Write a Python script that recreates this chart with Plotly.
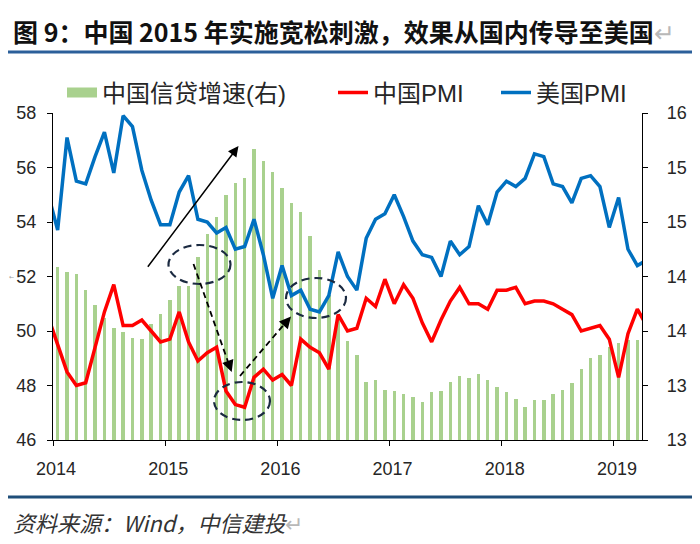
import plotly.graph_objects as go

# ---------------- data (monthly, Dec-2013 .. Apr-2019) ----------------
months = ["2013-12"] + [f"{y}-{m:02d}" for y in range(2014, 2019) for m in range(1, 13)] + \
         ["2019-01", "2019-02", "2019-03", "2019-04"]

china_pmi = [50.5,
             49.5, 48.5, 48.0, 48.1, 49.4, 50.7, 51.7, 50.2, 50.2, 50.4, 50.0, 49.6,
             49.7, 50.7, 49.6, 48.9, 49.2, 49.4, 47.8, 47.3, 47.2, 48.3, 48.6, 48.2,
             48.4, 48.0, 49.7, 49.4, 49.2, 48.6, 50.6, 50.0, 50.1, 51.2, 50.9, 51.9,
             51.0, 51.7, 51.2, 50.3, 49.6, 50.4, 51.1, 51.6, 51.0, 51.0, 50.8, 51.5,
             51.5, 51.6, 51.0, 51.1, 51.1, 51.0, 50.8, 50.6, 50.0, 50.1, 50.2, 49.7,
             48.3, 49.9, 50.8, 50.2]

us_pmi = [55.0,
          53.7, 57.1, 55.5, 55.4, 56.4, 57.3, 55.8, 57.9, 57.5, 55.9, 54.8, 53.9,
          53.9, 55.1, 55.7, 54.1, 54.0, 53.6, 53.8, 53.0, 53.1, 54.1, 52.8, 51.2,
          52.4, 51.3, 51.5, 50.8, 50.7, 51.3, 52.9, 52.0, 51.5, 53.4, 54.1, 54.3,
          55.0, 54.2, 53.3, 52.8, 52.7, 52.0, 53.3, 52.8, 53.1, 54.6, 53.9, 55.1,
          55.5, 55.3, 55.6, 56.5, 56.4, 55.4, 55.3, 54.7, 55.6, 55.7, 55.3, 53.8,
          54.9, 53.0, 52.4, 52.6]

credit_growth = [None,
                 14.59, 14.54, 14.52, 14.38, 14.24, 14.12, 14.03, 13.99, 13.94, 13.93, 14.06, 14.16,
                 14.28, 14.41, 14.41, 14.68, 14.89, 15.05, 15.25, 15.36, 15.40, 15.67, 15.56, 15.46,
                 15.31, 15.17, 15.09, 14.87, 14.56, 14.33, 14.12, 13.91, 13.78, 13.53, 13.55, 13.46,
                 13.45, 13.42, 13.39, 13.35, 13.44, 13.45, 13.53, 13.59, 13.57, 13.61, 13.55, 13.49,
                 13.44, 13.38, 13.30, 13.37, 13.37, 13.42, 13.46, 13.52, 13.65, 13.75, 13.78, 13.85,
                 13.89, 13.92, 13.92, None]

year_labels = ["2014", "2015", "2016", "2017", "2018", "2019"]
left_ticks = [46, 48, 50, 52, 54, 56, 58]
right_tick_vals = [13, 13.5, 14, 14.5, 15, 15.5, 16]
right_tick_text = ["13", "13", "14", "14", "15", "15", "16"]

names = ["中国信贷增速(右)", "中国PMI", "美国PMI"]
title_text = "图 9：中国 2015 年实施宽松刺激，效果从国内传导至美国"
source_text = "资料来源：Wind，中信建投"

# month position on a numeric axis (0 = Jan 2014)
def mpos(m):
    y, mo = m.split("-")
    return (int(y) - 2014) * 12 + int(mo) - 1

xpos = [mpos(m) for m in months]
year_pos = [mpos(y + "-01") - 0.5 for y in year_labels]

# ---------------- layout geometry ----------------
# the page body adds an 8px offset, so the figure is drawn 8px smaller
OFF = 8
W, H = 700 - OFF, 544 - OFF
L, R, T, B = 53 - OFF, 58, 113 - OFF, 104
PW, PH = W - L - R, H - T - B
XR = [-0.5, 62.5]
YR = [46, 58]

def px_x(p):  # window pixel x -> paper
    return (p - OFF - L) / PW

def px_y(p):  # window pixel y -> paper
    return (H - B - (p - OFF)) / PH

def dx(p):  # window pixel x -> data x
    return XR[0] + px_x(p) * (XR[1] - XR[0])

def dy(p):  # window pixel y -> data y (left axis)
    return YR[0] + px_y(p) * (YR[1] - YR[0])

GREEN = "#a9d18e"
RED = "#ff0000"
BLUE = "#0070c0"
NAVY = "#1b2a41"
TXT = "#262626"
NARROW = "Liberation Sans Narrow, Arial Narrow, Liberation Sans, Noto Sans CJK SC"

fig = go.Figure()

fig.add_trace(go.Bar(x=xpos, y=credit_growth, yaxis="y", marker_color=GREEN,
                     marker_line_width=0, width=0.37, showlegend=False, name=names[0]))
fig.add_trace(go.Scatter(x=[None], y=[None], mode="lines", yaxis="y",
                         line=dict(color=GREEN, width=11), name=names[0], legend="legend"))
fig.add_trace(go.Scatter(x=xpos, y=china_pmi, yaxis="y2", mode="lines",
                         line=dict(color=RED, width=3.5), name=names[1], legend="legend2"))
fig.add_trace(go.Scatter(x=xpos, y=us_pmi, yaxis="y2", mode="lines",
                         line=dict(color=BLUE, width=3.5), name=names[2], legend="legend3"))

axis_font = dict(family=NARROW, size=18, color=TXT)
leg_font = dict(family=NARROW, size=24, color=TXT)

def leg(xp):
    return dict(x=px_x(xp), y=px_y(93), xanchor="left", yanchor="middle",
                orientation="h", font=leg_font, bgcolor="rgba(0,0,0,0)",
                itemwidth=30, borderwidth=0)

shapes = []
# header / footer rules
shapes.append(dict(type="line", xref="paper", yref="paper", x0=px_x(0), x1=px_x(710),
                   y0=px_y(52), y1=px_y(52), line=dict(color="#2b5f9a", width=3)))
shapes.append(dict(type="line", xref="paper", yref="paper", x0=px_x(0), x1=px_x(710),
                   y0=px_y(497), y1=px_y(497), line=dict(color="#1f4e79", width=3)))

# dashed ellipses
for (cx, cy, rx, ry) in [(199.5, 264.5, 31, 19.5), (242, 401, 28, 19), (316, 298, 30, 20)]:
    shapes.append(dict(type="circle", xref="x", yref="y2",
                       x0=dx(cx - rx), x1=dx(cx + rx), y0=dy(cy + ry), y1=dy(cy - ry),
                       line=dict(color=NAVY, width=2.2, dash="8px,5px")))

# dashed arrow shafts
for (x0, y0, x1, y1) in [(193.5, 264, 229.5, 366), (240, 376, 287, 321)]:
    shapes.append(dict(type="line", xref="x", yref="y2", x0=dx(x0), y0=dy(y0),
                       x1=dx(x1), y1=dy(y1), line=dict(color="black", width=1.8, dash="6px,4px")))

annotations = []
# solid arrow
annotations.append(dict(x=dx(238.5), y=dy(146), ax=dx(146.7), ay=dy(268.3),
                        xref="x", yref="y2", axref="x", ayref="y2", text="",
                        showarrow=True, arrowhead=2, arrowsize=1.4, arrowwidth=1.5,
                        arrowcolor="black"))
# dashed arrow heads
annotations.append(dict(x=dx(231.7), y=dy(372), ax=-3.3, ay=-9.4, xref="x", yref="y2",
                        text="", showarrow=True, arrowhead=2, arrowsize=1.3,
                        arrowwidth=1.8, arrowcolor="black"))
annotations.append(dict(x=dx(291), y=dy(316.5), ax=-6.5, ay=7.6, xref="x", yref="y2",
                        text="", showarrow=True, arrowhead=2, arrowsize=1.3,
                        arrowwidth=1.8, arrowcolor="black"))
# title
annotations.append(dict(xref="paper", yref="paper", x=px_x(11), y=px_y(31),
                        xanchor="left", yanchor="middle", showarrow=False,
                        text="<b>" + title_text + "</b><span style='color:#b8b8b8'>↵</span>",
                        font=dict(family="Noto Sans CJK SC", size=25, color="#111111")))
# source
annotations.append(dict(xref="paper", yref="paper", x=px_x(11), y=px_y(522),
                        xanchor="left", yanchor="middle", showarrow=False,
                        text="<i>" + source_text + "</i><span style='color:#b8b8b8'>↵</span>",
                        font=dict(family="Noto Sans CJK SC", size=22, color="#333333")))
# small grey mark near left axis
annotations.append(dict(xref="paper", yref="paper", x=px_x(8), y=px_y(276),
                        xanchor="left", yanchor="middle", showarrow=False, text="←",
                        borderpad=0, font=dict(family="DejaVu Sans", size=6, color="#a0a0a0")))

common = dict(ticks="outside", ticklen=5, tickwidth=1.3, tickcolor="black",
              showline=True, linecolor="black", linewidth=1.3, showgrid=False,
              zeroline=False, tickfont=axis_font, automargin=False)

fig.update_layout(
    width=W, height=H, margin=dict(l=L, r=R, t=T, b=B, pad=0, autoexpand=False),
    paper_bgcolor="white", plot_bgcolor="white",
    barmode="overlay", bargap=0,
    xaxis=dict(range=XR, tickmode="array", tickvals=year_pos, ticktext=year_labels,
               ticklabelshift=3, ticklabelstandoff=7, **common),
    yaxis=dict(side="right", range=[13, 16], tickmode="array", tickvals=right_tick_vals,
               ticktext=right_tick_text, ticklabelstandoff=15, **common),
    yaxis2=dict(overlaying="y", side="left", range=YR, tickmode="array", tickvals=left_ticks,
                ticklabelstandoff=7, **common),
    legend=leg(62), legend2=leg(333), legend3=leg(496),
    shapes=shapes, annotations=annotations,
)

fig.write_html("out.html")
